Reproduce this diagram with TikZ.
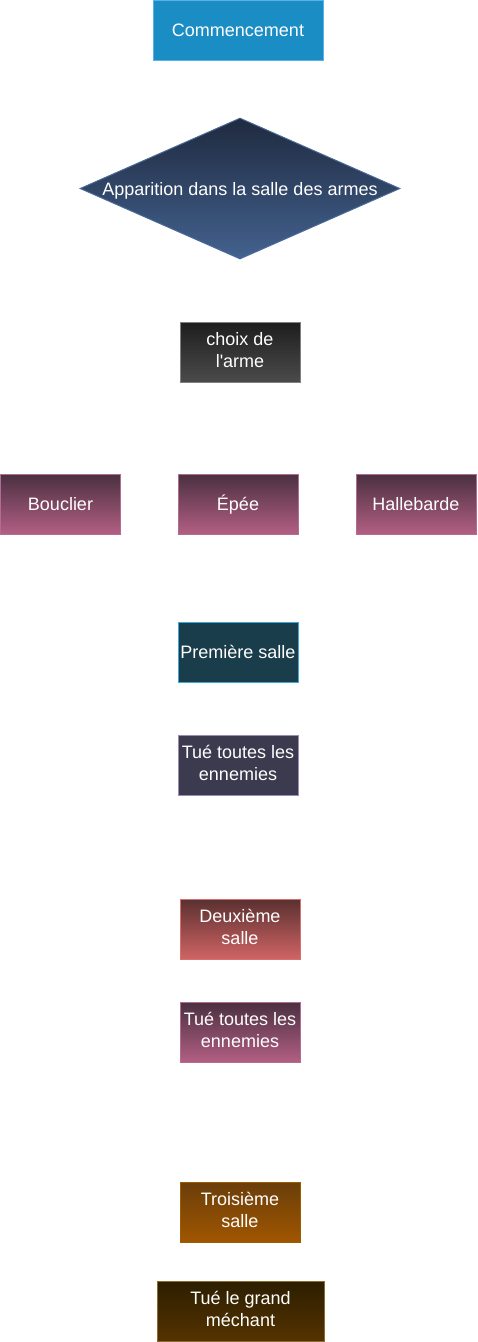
\documentclass[tikz,border=0pt]{standalone}
\usepackage{fontspec}
\setmainfont{Liberation Sans}
\usetikzlibrary{shapes.geometric}
\newcommand\boxstrut{\rule[-4.3pt]{0pt}{21.6pt}}
\definecolor{startF}{HTML}{1A8DC4}
\definecolor{startD}{HTML}{5BB0E8}
\definecolor{diaT}{HTML}{1F2A3F}
\definecolor{diaB}{HTML}{43628F}
\definecolor{diaD}{HTML}{4A6A9A}
\definecolor{choT}{HTML}{1E1E1E}
\definecolor{choB}{HTML}{4B4B4B}
\definecolor{choD}{HTML}{808080}
\definecolor{wpT}{HTML}{4A3040}
\definecolor{wpB}{HTML}{B35F83}
\definecolor{wpD}{HTML}{B06C92}
\definecolor{premF}{HTML}{1A3D4B}
\definecolor{premD}{HTML}{3FA7D8}
\definecolor{tueF}{HTML}{3C3A4E}
\definecolor{tueD}{HTML}{9B8BB5}
\definecolor{deuT}{HTML}{5A3030}
\definecolor{deuB}{HTML}{D06464}
\definecolor{deuD}{HTML}{D5706E}
\definecolor{troT}{HTML}{6A3E0A}
\definecolor{troB}{HTML}{A05600}
\definecolor{troD}{HTML}{9C5C00}
\definecolor{grT}{HTML}{2C1E00}
\definecolor{grB}{HTML}{553300}
\definecolor{grD}{HTML}{8C6B33}
\tikzset{
  base/.style={rectangle, line width=1pt, inner sep=0pt, text=white, align=center,
    font=\fontsize{18}{21.6}\selectfont, minimum width=120pt, minimum height=60pt,
    execute at begin node=\boxstrut, execute at end node=\boxstrut},
  startbox/.style={base, fill=startF, draw=startD, minimum width=170pt},
  diabox/.style={diamond, line width=1pt, inner sep=0pt, minimum width=320pt, minimum height=141pt,
    top color=diaT, bottom color=diaB, draw=diaD},
  txt/.style={text=white, align=center, inner sep=0pt, font=\fontsize{18}{21.6}\selectfont,
    execute at begin node=\boxstrut},
  chobox/.style={base, top color=choT, bottom color=choB, draw=choD},
  wpbox/.style={base, top color=wpT, bottom color=wpB, draw=wpD},
  prembox/.style={base, fill=premF, draw=premD},
  tuebox/.style={base, fill=tueF, draw=tueD},
  deubox/.style={base, top color=deuT, bottom color=deuB, draw=deuD},
  trobox/.style={base, top color=troT, bottom color=troB, draw=troD},
  grbox/.style={base, top color=grT, bottom color=grB, draw=grD, minimum width=167pt},
}
\begin{document}
\begin{tikzpicture}[x=1pt, y=-1pt]
\useasboundingbox (0,0) rectangle (477,1342);
\node[startbox] (start) at (238,30) {Commencement};
\node[diabox] (dia) at (240,188.5) {};
\node[txt] (diatxt) at (dia.center) {Apparition dans la salle des armes};
\node[chobox] (choix) at (240,352) {choix de\\l\textquotesingle arme};
\node[wpbox] (bouclier) at (60.5,504) {Bouclier};
\node[wpbox] (epee) at (238,504) {Épée};
\node[wpbox] (halle) at (416,504) {Hallebarde};
\node[prembox] (prem) at (238,652) {Première salle};
\node[tuebox] (tue1) at (238,765) {Tué toutes les\\ennemies};
\node[deubox] (deux) at (240,929) {Deuxième\\salle};
\node[wpbox] (tue2) at (240,1032) {Tué toutes les\\ennemies};
\node[trobox] (trois) at (240,1212) {Troisième\\salle};
\node[grbox] (grand) at (240.5,1311) {Tué le grand\\méchant};
\end{tikzpicture}
\end{document}
